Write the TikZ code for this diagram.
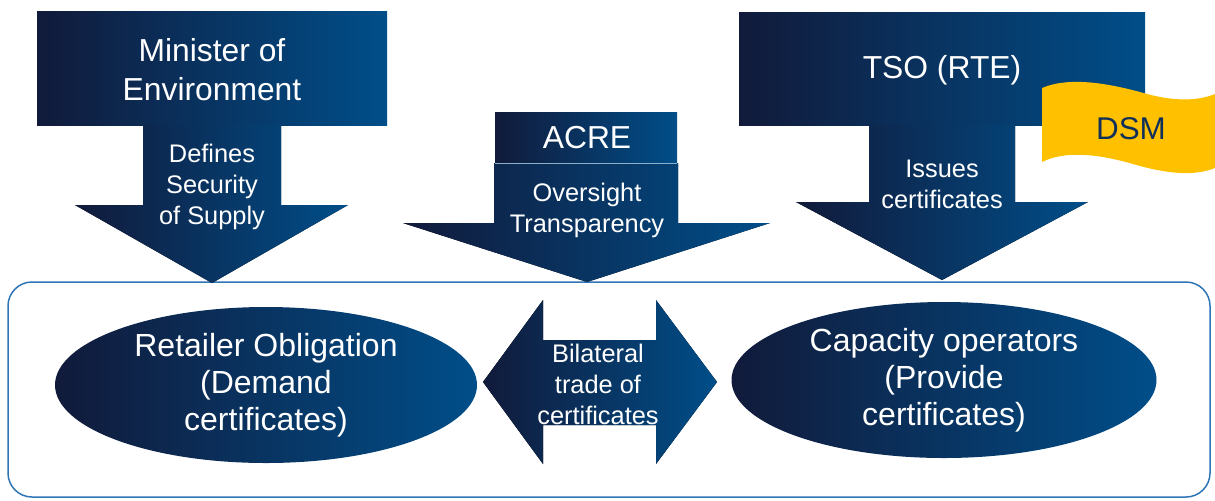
\documentclass[tikz,border=0pt]{standalone}
\usepackage{fontspec}
\setmainfont{Liberation Sans}
\usetikzlibrary{positioning,shapes.geometric}
\definecolor{navydark}{HTML}{111A3A}
\definecolor{navyblue}{HTML}{004E89}
\definecolor{frameblue}{HTML}{2E75B6}
\definecolor{dsmyellow}{HTML}{FFC000}
\definecolor{dsmtext}{HTML}{10305A}
\begin{document}
\begin{tikzpicture}[x=0.5pt,y=-0.5pt]
\tikzset{
    grad/.style={left color=navydark, right color=navyblue},
    big label/.style={
       text=white, align=center,
       font=\fontsize{15.9}{19.5}\selectfont
    },
    small label/.style={
       text=white, align=center,
       font=\fontsize{12.7}{15.5}\selectfont
    }
}
%
\useasboundingbox (0,0) rectangle (1215,500);
\draw[frameblue, line width=0.75pt, rounded corners=12pt] (8,282) rectangle (1210,497);

% Minister
\fill[grad] (37,11) rectangle (387,125);
\fill[grad] (143,125) -- (281,125) -- (281,205) -- (348,205) -- (212,283)
   -- (75,205) -- (143,205) -- cycle;
\node[big label] (minister) at (212,70) {Minister of\\Environment};
\node[small label] (defines) at (212,187) {Defines\\Security\\of Supply};

% ACRE
\fill[grad] (494,163) -- (678,163) -- (678,223) -- (770,223) -- (587,282)
   -- (403,223) -- (494,223) -- cycle;
\fill[grad] (495,112) rectangle (677,163);
\draw[white!55!navyblue, line width=0.5pt] (495,163) -- (677,163);
\node[big label] (acre) at (587,138) {ACRE};
\node[small label] (oversight) at (587,210) {Oversight\\Transparency};

% TSO
\fill[grad] (739,12) rectangle (1145,125);
\fill[grad] (869,125) -- (1015,125) -- (1015,202) -- (1088,202) -- (942,280)
   -- (796,202) -- (869,202) -- cycle;
\node[big label] (tso) at (942,70) {TSO (RTE)};
\node[small label] (issues) at (942,184) {Issues\\certificates};

% DSM banner
\fill[dsmyellow] (1042,88) .. controls (1070,76) and (1110,84) .. (1140,92)
   .. controls (1170,101) and (1195,102) .. (1215,94)
   -- (1215,168) .. controls (1195,176) and (1170,174) .. (1140,166)
   .. controls (1110,157) and (1070,148) .. (1042,162) -- cycle;
\node[text=dsmtext, font=\fontsize{15.7}{18}\selectfont] (dsm) at (1131,129) {DSM};

% market
\node[ellipse, grad, inner sep=0pt, minimum width=211pt, minimum height=78pt,
   big label, font=\fontsize{16}{18.5}\selectfont] (retailer) at (266,385)
   {Retailer Obligation\\(Demand\\certificates)};
\node[ellipse, grad, inner sep=0pt, minimum width=212.5pt, minimum height=78pt,
   big label, font=\fontsize{16}{18.5}\selectfont] (operators) at (944,380)
   {Capacity operators\\(Provide\\certificates)};
\fill[grad] (483,382) -- (543,300) -- (543,340) -- (656,340) -- (656,300)
   -- (717,382) -- (656,464) -- (656,425) -- (543,425) -- (543,464) -- cycle;
\node[small label] (trade) at (598,384) {Bilateral\\trade of\\certificates};
\end{tikzpicture}
\end{document}
